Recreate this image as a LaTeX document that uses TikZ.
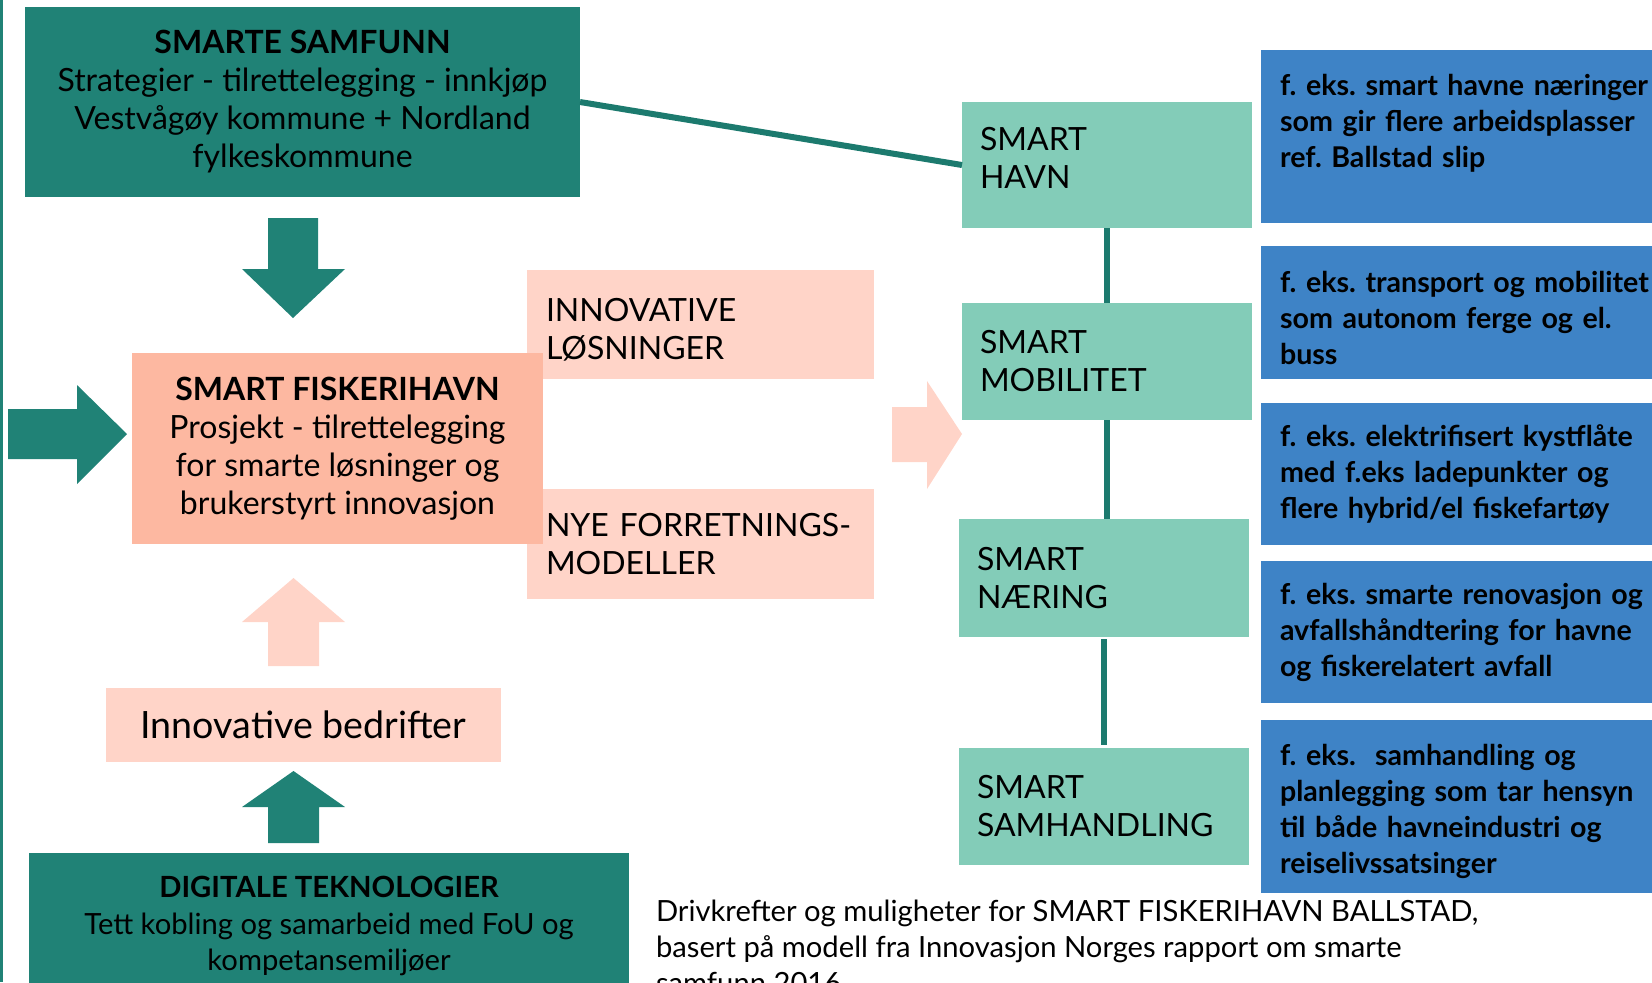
\documentclass[tikz,border=0pt]{standalone}
\usepackage{fontspec}
\setmainfont{Lato}
\frenchspacing
\definecolor{tealbox}{HTML}{208276}
\definecolor{tealline}{HTML}{1C7A6E}
\definecolor{salmon}{HTML}{FDB8A1}
\definecolor{lightpink}{HTML}{FFD4C8}
\definecolor{mint}{HTML}{83CCB8}
\definecolor{bluebox}{HTML}{3E83C6}
\newcommand{\myfs}[2]{\fontsize{#1}{#2}\selectfont}
\begin{document}
\begin{tikzpicture}[x=0.5pt,y=-0.5pt,
  every node/.style={inner sep=0pt,outer sep=0pt,text=black},
  darkbox/.style={fill=tealbox,align=center,font=\myfs{16pt}{19pt}},
  fiskebox/.style={fill=salmon,align=center,font=\myfs{16pt}{19pt}},
  pinkbox/.style={fill=lightpink,align=left,text width=154.5pt,minimum width=173.5pt,font=\myfs{16pt}{19pt}},
  mintbox/.style={fill=mint,align=left,text width=127pt,minimum width=145pt,font=\myfs{16pt}{19pt}},
  bluebx/.style={fill=bluebox,align=left,text width=200.5pt,minimum width=219.5pt,font=\bfseries\myfs{14.3pt}{18pt}},
  link/.style={draw=tealline,line width=3pt},
  tealarrow/.style={fill=tealbox},
  pinkarrow/.style={fill=lightpink}]
\useasboundingbox (0,0) rectangle (1652,982);
\clip (0,0) rectangle (1652,982);
% left edge line
\fill[tealbox] (0,0) rectangle (3,982);
% pink boxes
\node[pinkbox,minimum height=54.5pt] (innlos) at (700.5,324.5) {\mbox{}\\[-2pt]INNOVATIVE\\LØSNINGER};
\node[pinkbox,minimum height=55pt] (nye) at (700.5,544) {NYE FORRETNINGS-\\MODELLER};
% main boxes
\node[darkbox,minimum width=277.5pt,minimum height=95pt] (samfunn) at (302.5,102)
  {\textbf{SMARTE SAMFUNN}\\Strategier - tilrettelegging - innkjøp\\Vestvågøy kommune + Nordland\\fylkeskommune};
\node[fiskebox,minimum width=205.5pt,minimum height=95.5pt] (fiske) at (337.5,448.5)
  {\textbf{SMART FISKERIHAVN}\\Prosjekt - tilrettelegging\\for smarte løsninger og\\brukerstyrt innovasjon};
\node[fill=lightpink,minimum width=197.5pt,minimum height=37pt,font=\myfs{18.8pt}{22pt}] (bedr) at (303.5,725) {Innovative bedrifter};
\node[darkbox,minimum width=300pt,minimum height=73pt,font=\myfs{14.6pt}{18.25pt}] (digi) at (329,926)
  {\textbf{DIGITALE TEKNOLOGIER}\\Tett kobling og samarbeid med FoU og\\kompetansemiljøer};
% smart boxes
\node[mintbox,minimum height=63pt] (havn) at (1107,165) {SMART\\HAVN\\[-12pt]\mbox{}};
\node[mintbox,minimum height=58.5pt] (mob) at (1107,361.5) {SMART\\MOBILITET};
\node[mintbox,minimum height=59pt] (naer) at (1104,578) {SMART\\NÆRING};
\node[mintbox,minimum height=58.5pt] (samh) at (1104,806.5) {SMART\\SAMHANDLING};
% blue boxes
\node[bluebx,minimum height=86.5pt] (b1) at (1480.5,136.5) {f. eks. smart havne næringer\\som gir flere arbeidsplasser\\ref. Ballstad slip\\[-2pt]\mbox{}};
\node[bluebx,minimum height=66.5pt] (b2) at (1480.5,312.5) {\mbox{}\\[-2pt]f. eks. transport og mobilitet\\som autonom ferge og el.\\buss};
\node[bluebx,minimum height=71pt] (b3) at (1480.5,474) {f. eks. elektrifisert kystflåte\\med f.eks ladepunkter og\\flere hybrid/el fiskefartøy};
\node[bluebx,minimum height=71pt] (b4) at (1480.5,632) {f. eks. smarte renovasjon og\\avfallshåndtering for havne\\og fiskerelatert avfall};
\node[bluebx,minimum height=86.5pt] (b5) at (1480.5,806.5) {\mbox{}\\[-2pt]f. eks.\ \ samhandling og\\planlegging som tar hensyn\\til både havneindustri og\\reiselivssatsinger};
% caption
\node[anchor=north west,align=left,font=\myfs{14.6pt}{18pt}] (cap) at (656,900)
  {Drivkrefter og muligheter for SMART FISKERIHAVN BALLSTAD,\\basert på modell fra Innovasjon Norges rapport om smarte\\samfunn 2016};
% connectors
\draw[link] (samfunn.east) -- (havn.west);
\draw[link] (havn.south) -- (mob.north);
\draw[link] (mob.south) -- (mob.south |- naer.north);
\draw[link] ([yshift=-1pt]naer.south) -- ([yshift=1.5pt]samh.north);
% block arrows
\fill[tealarrow] (268,218) -- (318,218) -- (318,269) -- (345,269) -- (293,318) -- (242,269) -- (268,269) -- cycle;
\fill[tealarrow] (8,409) -- (77,409) -- (77,385) -- (127,434) -- (77,484) -- (77,459) -- (8,459) -- cycle;
\fill[pinkarrow] (268,666) -- (268,622) -- (242,622) -- (293.5,578) -- (345,622) -- (319,622) -- (319,666) -- cycle;
\fill[tealarrow] (268,843) -- (268,807) -- (242,807) -- (293.5,771) -- (345,807) -- (319,807) -- (319,843) -- cycle;
\fill[pinkarrow] (892,407) -- (927,407) -- (927,381) -- (962,434) -- (927,489) -- (927,462) -- (892,462) -- cycle;
\end{tikzpicture}
\end{document}
